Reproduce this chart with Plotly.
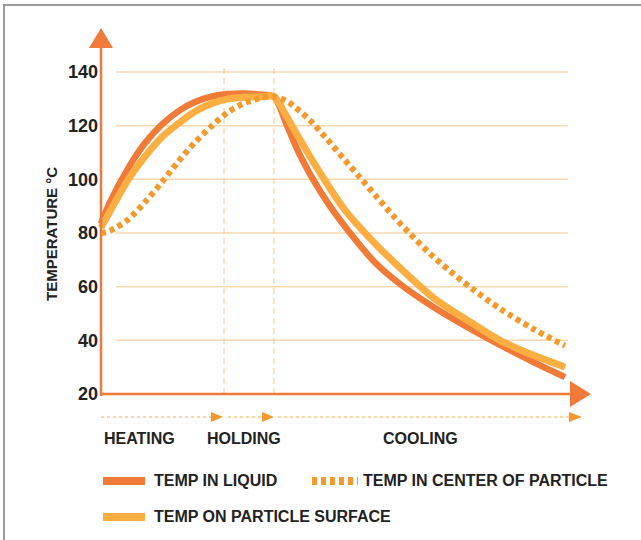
import plotly.graph_objects as go

# ---------------- data ----------------
liquid_time = [0, 1.8, 5.4, 8.8, 12.2, 15.8, 18.8, 22.2, 25.4, 28.8, 32.2, 34.6,
               37.2, 39.8, 42.4, 45.8, 49.8, 54.8, 59.8, 66.4, 73.2, 79.8, 86.4, 92.8]
liquid_temp = [83.5, 91.5, 104, 113.5, 120.5, 125.8, 128.8, 130.9, 131.8, 132, 131.5, 130.8,
               120, 109, 100, 90, 80, 69, 61, 52.5, 45, 38.3, 32, 26.3]

surface_time = [0, 1.8, 5.4, 8.8, 12.2, 15.8, 18.8, 22.2, 25.4, 28.8, 32.2, 34.6,
                36.8, 38.8, 41.8, 44.8, 48.8, 53.8, 59.8, 66.4, 73.2, 79.8, 86.4, 92.8]
surface_temp = [82, 88, 99.8, 108.5, 115.8, 121.3, 125.3, 128.3, 130, 130.6, 130.8, 130.8,
                124.5, 118, 108.5, 99.5, 88.5, 78, 67, 56, 47.6, 40, 34.5, 30]

center_time = [0, 1.8, 5.4, 8.8, 12.2, 15.4, 18.8, 22.2, 25.4, 28.8, 32.2, 34.6,
               36.8, 38.4, 41.8, 45.2, 48.4, 51.8, 55.2, 58.4, 61.8, 65.8, 69.8, 74.4,
               79.8, 86.4, 92.8]
center_temp = [80, 80.8, 85, 91.5, 99, 106.5, 113.8, 120, 125, 128.5, 130.4, 130.8,
               129.5, 127.5, 122, 115, 108, 100.7, 93.3, 86.5, 79.7, 72.3, 65.8, 59,
               51.8, 44.3, 38]

y_ticks = [20, 40, 60, 80, 100, 120, 140]
gridline_values = [40, 60, 80, 100, 120, 140]
phase_bounds = [24.6, 34.6]          # end of heating, end of holding
phase_labels = ["HEATING", "HOLDING", "COOLING"]
series_names = ["TEMP IN LIQUID", "TEMP IN CENTER OF PARTICLE", "TEMP ON PARTICLE SURFACE"]
y_title = "TEMPERATURE °C"

# ---------------- styling / layout helpers ----------------
W, H = 641, 540
X0_PX, X_SCALE = 101, 5.0            # pixel of t=0, pixels per time unit
Y20_PX, Y_SCALE = 394, 322 / 120     # pixel of 20 degC, pixels per degree


def tx(px):
    return (px - X0_PX) / X_SCALE


def vy(py):
    return 20 + (Y20_PX - py) / Y_SCALE


C_LIQUID = "#F07A38"
C_SURFACE = "#FBAF42"
C_CENTER = "#F29A2E"
C_AXIS = "#F07A3A"
C_GRID = "#FAD9B0"
C_VDASH = "#F6C690"
C_PHASE = "#F7A94E"
C_TEXT = "#222222"
FONT = "Liberation Sans"

fig = go.Figure()

fig.add_trace(go.Scatter(x=liquid_time, y=liquid_temp, mode="lines", name=series_names[0],
                         line=dict(color=C_LIQUID, width=6.5, shape="spline", smoothing=0.8),
                         showlegend=False, hoverinfo="skip"))
fig.add_trace(go.Scatter(x=surface_time, y=surface_temp, mode="lines", name=series_names[2],
                         line=dict(color=C_SURFACE, width=7, shape="spline", smoothing=0.8),
                         showlegend=False, hoverinfo="skip"))
fig.add_trace(go.Scatter(x=center_time, y=center_temp, mode="lines", name=series_names[1],
                         line=dict(color=C_CENTER, width=6, shape="spline", smoothing=0.8,
                                   dash="5px,4px"),
                         showlegend=False, hoverinfo="skip"))

shapes = []
# horizontal gridlines
for g in gridline_values:
    shapes.append(dict(type="line", x0=tx(116), x1=tx(568), y0=g, y1=g,
                       line=dict(color=C_GRID, width=1.5), layer="below"))
# vertical dashed phase separators
for b in phase_bounds:
    shapes.append(dict(type="line", x0=b, x1=b, y0=20, y1=vy(68),
                       line=dict(color=C_VDASH, width=1, dash="6px,4px"), layer="below"))
# y axis line + arrow
shapes.append(dict(type="line", x0=0, x1=0, y0=vy(396), y1=vy(46),
                   line=dict(color=C_AXIS, width=2.5)))
shapes.append(dict(type="path",
                   path=f"M {tx(89)},{vy(48)} L {tx(101)},{vy(28)} L {tx(113)},{vy(48)} Z",
                   fillcolor=C_AXIS, line=dict(width=0)))
# x axis line + arrow
shapes.append(dict(type="line", x0=tx(100), x1=tx(572), y0=20, y1=20,
                   line=dict(color=C_AXIS, width=2.5)))
shapes.append(dict(type="path",
                   path=f"M {tx(570)},{vy(381)} L {tx(591)},{vy(394)} L {tx(570)},{vy(407)} Z",
                   fillcolor=C_AXIS, line=dict(width=0)))
# phase arrows (dotted)
py_ph = 417
for (a, b) in [(101, 211), (228, 262), (278, 569)]:
    shapes.append(dict(type="line", x0=tx(a), x1=tx(b), y0=vy(py_ph), y1=vy(py_ph),
                       line=dict(color=C_PHASE, width=1, dash="dot")))
for (a, b) in [(211, 223), (262, 274), (569, 582)]:
    shapes.append(dict(type="path",
                       path=f"M {tx(a)},{vy(py_ph-5)} L {tx(b)},{vy(py_ph)} L {tx(a)},{vy(py_ph+5)} Z",
                       fillcolor=C_CENTER, line=dict(width=0)))
# legend samples
shapes.append(dict(type="line", x0=tx(103), x1=tx(145), y0=vy(481), y1=vy(481),
                   line=dict(color=C_LIQUID, width=8)))
shapes.append(dict(type="line", x0=tx(312), x1=tx(358), y0=vy(481), y1=vy(481),
                   line=dict(color=C_CENTER, width=8, dash="5px,4px")))
shapes.append(dict(type="line", x0=tx(103), x1=tx(145), y0=vy(517), y1=vy(517),
                   line=dict(color=C_SURFACE, width=8)))
# grey frame (top and left)
shapes.append(dict(type="line", x0=tx(3), x1=tx(641), y0=vy(5), y1=vy(5),
                   line=dict(color="#9B9B9B", width=2)))
shapes.append(dict(type="line", x0=tx(4), x1=tx(4), y0=vy(4), y1=vy(540),
                   line=dict(color="#9B9B9B", width=2)))

annotations = []
font_txt = dict(family=FONT, size=16, color=C_TEXT, weight="bold")
for lbl, px in zip(phase_labels, [102, 205, 381]):
    annotations.append(dict(x=tx(px), y=vy(438), text=lbl, showarrow=False,
                            xanchor="left", yanchor="middle", font=font_txt))
annotations.append(dict(x=tx(152), y=vy(480), text=series_names[0], showarrow=False,
                        xanchor="left", yanchor="middle", font=font_txt))
annotations.append(dict(x=tx(361), y=vy(480), text=series_names[1], showarrow=False,
                        xanchor="left", yanchor="middle", font=font_txt))
annotations.append(dict(x=tx(152), y=vy(516), text=series_names[2], showarrow=False,
                        xanchor="left", yanchor="middle", font=font_txt))
annotations.append(dict(x=tx(51), y=vy(234), text=y_title, showarrow=False, textangle=-90,
                        xanchor="center", yanchor="middle",
                        font=dict(family=FONT, size=15, color=C_TEXT, weight="bold")))

fig.update_layout(
    width=W, height=H,
    margin=dict(l=0, r=0, t=0, b=0),
    paper_bgcolor="white", plot_bgcolor="white",
    showlegend=False,
    shapes=shapes, annotations=annotations,
    xaxis=dict(range=[tx(0), tx(W)], visible=False, domain=[0, 1]),
    yaxis=dict(range=[vy(H), vy(0)], anchor="free", position=X0_PX / W,
               tickvals=y_ticks, ticktext=[str(v) for v in y_ticks],
               showgrid=False, zeroline=False, showline=False, ticks="",
               ticklabelstandoff=3,
               tickfont=dict(family=FONT, size=18, color=C_TEXT, weight="bold")),
)

fig.write_html("out.html", config={"displayModeBar": False},
               post_script="document.body.style.margin='0';document.body.style.overflow='hidden';")
